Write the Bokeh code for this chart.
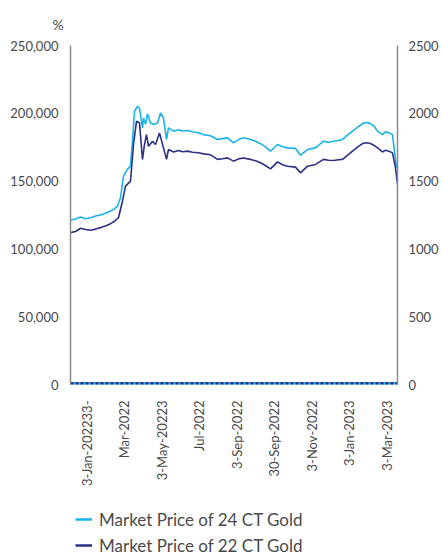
import math
from bokeh.plotting import figure
from bokeh.layouts import column
from bokeh.models import (Range1d, LinearAxis, FixedTicker, NumeralTickFormatter,
                          Legend, LegendItem)
from bokeh.embed import file_html
from bokeh.resources import INLINE

# Trading-day index and market price (left axis) for each series
day_24 = [0, 5, 10, 15, 20, 25, 30, 35, 40, 44, 47, 50, 53, 57, 60, 62, 64, 67, 69, 72, 73,
          75, 77, 80, 83, 87, 90, 93, 96, 98, 103, 108, 112, 117, 122, 128, 133, 140, 147,
          152, 157, 163, 168, 173, 180, 185, 190, 195, 200, 207, 212, 217, 225, 230, 237,
          245, 253, 258, 263, 268, 272, 277, 282, 287, 292, 296, 300, 304, 307, 312, 315,
          319, 322, 324, 326]
price_24 = [121100, 122000, 123500, 122300, 123000, 124200, 125000, 126300, 127900, 129500,
            131600, 137700, 153700, 158800, 161000, 179400, 201500, 205200, 203900, 189200,
            196500, 191900, 199500, 192900, 191700, 192900, 200200, 196500, 180700, 189200,
            186800, 187800, 186900, 187300, 186400, 185600, 184300, 183500, 180700, 181300,
            181900, 178200, 180600, 181900, 180700, 179400, 177600, 175200, 172100, 177000,
            175300, 174500, 174100, 169100, 173300, 174500, 179400, 178600, 179400, 179900,
            180700, 183900, 186800, 189700, 192400, 193200, 192400, 190100, 186800, 184300,
            186300, 185400, 184300, 172100, 159800]

day_22 = [0, 5, 10, 15, 20, 25, 30, 35, 40, 44, 48, 52, 55, 60, 63, 66, 69, 72, 74, 76, 78,
          82, 85, 89, 93, 96, 98, 103, 108, 112, 117, 122, 128, 133, 140, 147, 152, 157, 163,
          168, 173, 180, 185, 190, 195, 200, 207, 212, 217, 225, 230, 237, 245, 253, 258,
          263, 268, 272, 277, 282, 287, 292, 296, 300, 304, 307, 312, 315, 319, 322, 325, 327]
price_22 = [112000, 112800, 115200, 114300, 113800, 114600, 115700, 116900, 118600, 120400,
            123000, 135300, 146300, 150000, 177000, 194100, 192900, 166000, 177000, 184300,
            175700, 179400, 177000, 185500, 174500, 166000, 173300, 171500, 172600, 171700,
            172100, 171300, 170900, 170100, 169400, 166000, 166500, 167100, 164700, 166400,
            167100, 166000, 165000, 163500, 161500, 159000, 164200, 162100, 161000, 160300,
            156100, 161000, 162300, 166000, 165400, 165200, 165800, 166000, 169000, 172100,
            175100, 177700, 178300, 177700, 176100, 174500, 171500, 172800, 171900, 170800,
            159800, 147600]

# Secondary (right axis) series that sit on the baseline
base_day = [0, 327]
base_24 = [8, 8]
base_22 = [8, 8]

tick_days = [16, 53, 91, 128, 166, 203, 241, 278, 316]
tick_labels = ["3-Jan-202233-", "Mar-2022", "3-May-20223", "Jul-2022", "3-Sep-2022",
               "30-Sep-2022", "3-Nov-2022", "3-Jan-2023", "3-Mar-2023"]

series_names = ["Market Price of 24 CT Gold", "Market Price of 22 CT Gold"]

C24 = "#1ab2ea"
C22 = "#2c3186"
FONT = "Lato"
TXT = "#4a4a4a"

p = figure(width=443, height=500, output_backend="svg", toolbar_location=None,
           x_range=Range1d(0, 327), y_range=Range1d(0, 250000),
           min_border_left=70, min_border_right=46, min_border_top=44, min_border_bottom=116)
p.extra_y_ranges = {"right": Range1d(0, 2500)}
p.outline_line_color = None
p.xgrid.visible = False
p.ygrid.visible = False
p.background_fill_color = "white"
p.border_fill_color = "white"

# unit marker above the left axis
p.title.text = "%"
p.title.align = "left"
p.title.offset = -18
p.title.text_font = FONT
p.title.text_font_size = "14px"
p.title.text_font_style = "normal"
p.title.text_color = TXT
p.title.standoff = 26

# left axis
ya = p.yaxis[0]
ya.ticker = FixedTicker(ticks=[0, 50000, 100000, 150000, 200000, 250000])
ya.formatter = NumeralTickFormatter(format="0,0")
ya.axis_line_color = "#8a8a8a"
ya.axis_line_width = 1.5
ya.major_tick_line_color = None
ya.minor_tick_line_color = None
ya.major_label_text_font = FONT
ya.major_label_text_font_size = "13px"
ya.major_label_text_color = TXT
ya.major_label_standoff = 6

# right axis
ra = LinearAxis(y_range_name="right", ticker=FixedTicker(ticks=[0, 500, 1000, 1500, 2000, 2500]))
ra.axis_line_color = "#8a8a8a"
ra.axis_line_width = 1.5
ra.major_tick_line_color = None
ra.minor_tick_line_color = None
ra.major_label_text_font = FONT
ra.major_label_text_font_size = "13px"
ra.major_label_text_color = TXT
ra.major_label_standoff = 5
p.add_layout(ra, "right")

# date axis
xa = p.xaxis[0]
xa.ticker = FixedTicker(ticks=tick_days)
xa.major_label_overrides = {d: t for d, t in zip(tick_days, tick_labels)}
xa.major_label_orientation = math.pi / 2
xa.axis_line_color = None
xa.major_tick_line_color = None
xa.minor_tick_line_color = None
xa.major_label_text_font = FONT
xa.major_label_text_font_size = "13px"
xa.major_label_text_color = TXT
xa.major_label_standoff = 10

# baseline series
p.line(base_day, base_24, y_range_name="right", line_color=C24, line_width=3)
p.line(base_day, base_22, y_range_name="right", line_color=C22, line_width=3, line_dash="3 2")

p.line(day_24, price_24, line_color=C24, line_width=1.6)
p.line(day_22, price_22, line_color=C22, line_width=1.6)

# legend strip under the chart; its line keys carry the series, which fall outside
# this strip's (0, 1) ranges so only the legend entries show
lg = figure(width=443, height=58, output_backend="svg", toolbar_location=None,
            x_axis_location=None, y_axis_location=None, min_border=0,
            x_range=Range1d(0, 1), y_range=Range1d(0, 1))
lg.outline_line_color = None
lg.xgrid.visible = False
lg.ygrid.visible = False
k24 = lg.line(day_24, price_24, line_color=C24, line_width=2.5)
k22 = lg.line(day_22, price_22, line_color=C22, line_width=2.5)
legend = Legend(items=[LegendItem(label=series_names[0], renderers=[k24]),
                       LegendItem(label=series_names[1], renderers=[k22])],
                location=(5, 0), padding=0, margin=0, spacing=0,
                label_height=26, glyph_height=26,
                glyph_width=17, label_standoff=7, border_line_color=None,
                background_fill_alpha=0,
                label_text_font=FONT, label_text_font_size="17px", label_text_color=TXT)
lg.add_layout(legend)

open("out.html", "w").write(file_html(column(p, lg, spacing=0), INLINE))
